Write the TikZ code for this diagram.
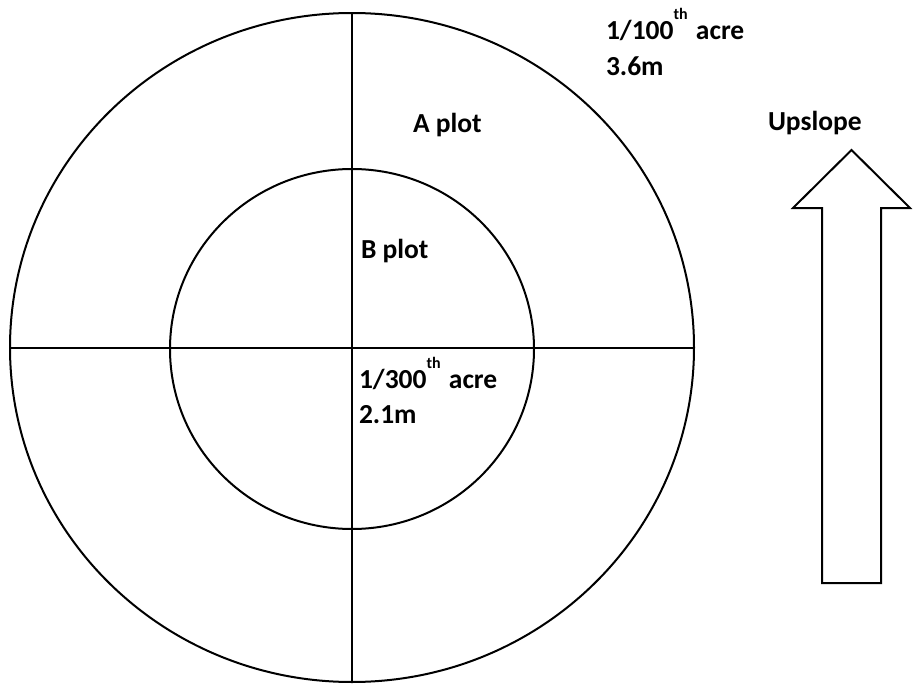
\documentclass[tikz,border=0pt]{standalone}
\usepackage{fontspec}
\setmainfont{Carlito}
\usetikzlibrary{positioning}
\newcommand{\ordsup}[1]{\raisebox{20pt}{\fontsize{16}{16}\selectfont #1}}

\begin{document}
\begin{tikzpicture}[x=1pt,y=-1pt,line width=2pt,
        t/.style={anchor=base west,inner sep=0pt,font=\fontsize{27.5}{36}\selectfont\bfseries,align=left}]
        \useasboundingbox (0,0) rectangle (914,688);
        % plots
        \draw (352,347.5) ellipse [x radius=342,y radius=334.5];
        \draw (352,349) ellipse [x radius=182,y radius=180];
        \draw (352,13) -- (352,682);
        \draw (10,347.5) -- (694,347.5);
        % labels
        \node[t] (big) at (605,39) {1/100\ordsup{th}\kern2pt{} acre};
        \node[t,below=36pt of big.base west,anchor=base west] (bigr) {3.6m};
        \node[t] (a) at (412,132) {A plot};
        \node[t] (b) at (360,258) {B plot};
        \node[t] (small) at (358,388) {1/300\ordsup{th}\kern2pt{} acre};
        \node[t,below=35pt of small.base west,anchor=base west] (smallr) {2.1m};
        \node[t] (up) at (767,130) {Upslope};
        % arrow
        \draw (822,583) -- (822,208) -- (793,208) -- (851.5,150) -- (910,208)
          -- (881,208) -- (881,583) -- cycle;
      \end{tikzpicture}
\end{document}
